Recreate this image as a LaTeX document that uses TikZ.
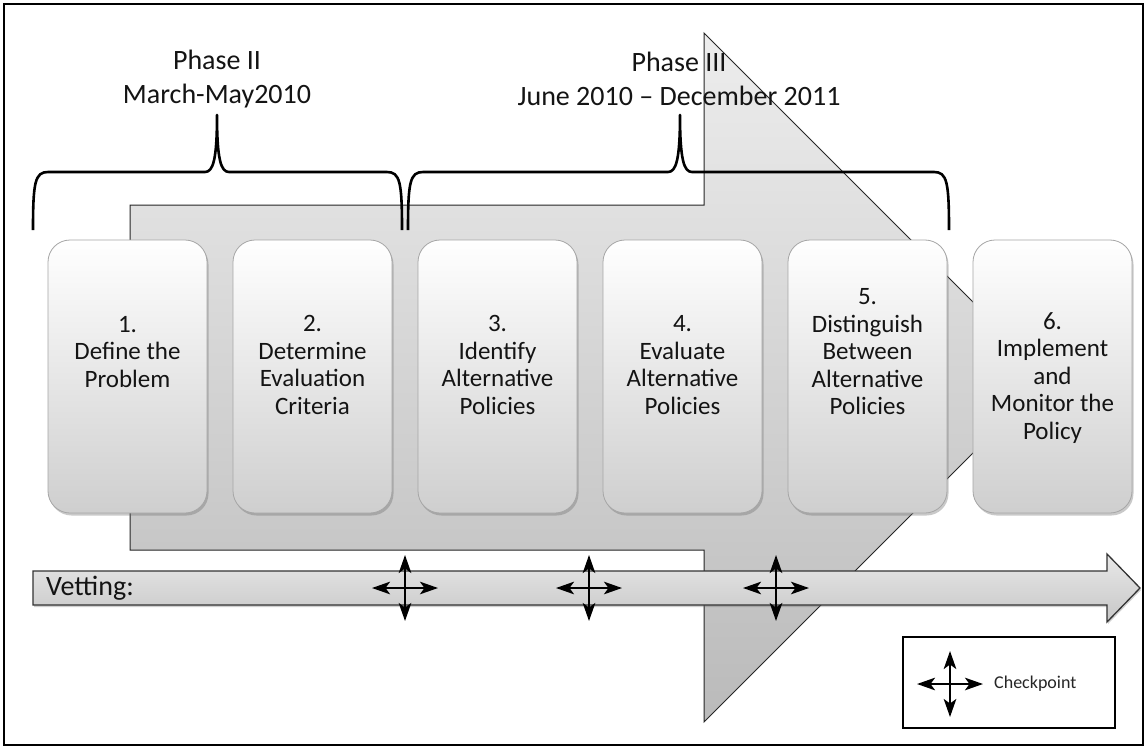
\documentclass[tikz,border=0pt]{standalone}
\usepackage{fontspec}
\setmainfont{Carlito}
\usetikzlibrary{arrows.meta,shadows}
\tikzset{
  frameline/.style={draw=black, line width=2pt},
  bracepath/.style={draw=black, line width=2.6pt, line join=round},
  bigarrow/.style={draw=black!85, line width=1pt, top color=black!7, bottom color=black!27},
  stepbox/.style={draw=black!35, line width=0.8pt, rounded corners=22pt,
    top color=white, bottom color=black!19, minimum width=159pt, minimum height=273pt,
    inner sep=0pt,
    drop shadow={shadow xshift=1.5pt, shadow yshift=-2.5pt, opacity=0.35, fill=black!60}},
  steptext/.style={align=center, inner sep=0pt, text=black!92,
    font=\fontsize{25}{27.5}\selectfont},
  phasetext/.style={align=center, inner sep=0pt, text=black!92,
    font=\fontsize{28}{34}\selectfont},
  vetarrow/.style={draw=black!80, line width=1.3pt, top color=black!9, bottom color=black!22,
    drop shadow={shadow xshift=1pt, shadow yshift=-2pt, opacity=0.3, fill=black!60}},
  cparrow/.style={draw=black, line width=2.3pt,
    {Stealth[length=18pt,width=12.5pt,inset=4.5pt]}-{Stealth[length=18pt,width=12.5pt,inset=4.5pt]}},
  checkpoint/.pic={
    \draw[cparrow] (-33,0) -- (33,0);
    \draw[cparrow] (0,-33) -- (0,33);
  },
  legendbox/.style={draw=black, line width=2.5pt, minimum width=212pt, minimum height=91pt, inner sep=0pt},
}
\begin{document}
\begin{tikzpicture}[x=1pt,y=-1pt]
\useasboundingbox (0,0) rectangle (1147,749);
\fill[white] (0,0) rectangle (1147,749);
\draw[frameline] (4,4) rectangle (1143,745);

% big background arrow
\draw[bigarrow] (130,205) -- (704,205) -- (704,33) -- (1048.5,377.5) -- (704,722)
  -- (704,550) -- (130,550) -- cycle;

% phase labels
\node[phasetext] (ph2) at (217,79) {Phase II\\March-May2010};
\node[phasetext] (ph3) at (679,79) {Phase III\\June 2010 -- December 2011};

% braces
\draw[bracepath] (33,230) .. controls (33,182) and (35,172) .. (48,172)
  -- (205,172) .. controls (213,172) and (217,160) .. (217,115)
  .. controls (217,160) and (221,172) .. (229,172)
  -- (387,172) .. controls (400,172) and (402,182) .. (402,230);
\draw[bracepath] (408,230) .. controls (408,182) and (410,172) .. (423,172)
  -- (668,172) .. controls (676,172) and (680,160) .. (680,115)
  .. controls (680,160) and (684,172) .. (692,172)
  -- (934,172) .. controls (947,172) and (949,182) .. (949,230);

% step boxes
\node[stepbox] (b1) at (127.5,376.5) {};
\node[stepbox] (b2) at (312.5,376.5) {};
\node[stepbox] (b3) at (497.5,376.5) {};
\node[stepbox] (b4) at (682.5,376.5) {};
\node[stepbox] (b5) at (867.5,376.5) {};
\node[stepbox] (b6) at (1052.5,376.5) {};

\node[steptext] (t1) at (127.5,352) {1.\\Define the\\Problem};
\node[steptext] (t2) at (312.5,365) {2.\\Determine\\Evaluation\\Criteria};
\node[steptext] (t3) at (497.5,365) {3.\\Identify\\Alternative\\Policies};
\node[steptext] (t4) at (682.5,365) {4.\\Evaluate\\Alternative\\Policies};
\node[steptext] (t5) at (867.5,352) {5.\\Distinguish\\Between\\Alternative\\Policies};
\node[steptext] (t6) at (1052.5,378) {6.\\Implement\\and\\Monitor the\\Policy};

% vetting arrow
\draw[vetarrow] (33,571) -- (1107,571) -- (1107,554) -- (1140,588) -- (1107,622)
  -- (1107,605) -- (33,605) -- cycle;
\node[phasetext, anchor=west] (vet) at (46,588) {Vetting:};

% checkpoints
\pic at (405,588) {checkpoint};
\pic at (589,588) {checkpoint};
\pic at (776,588) {checkpoint};

% legend
\node[legendbox] (leg) at (1009,682.5) {};
\pic at (950,684) {checkpoint};
\node[anchor=west, inner sep=0pt, text=black!85, font=\fontsize{18}{21}\selectfont] (legtext) at (994,684) {Checkpoint};
\end{tikzpicture}
\end{document}
